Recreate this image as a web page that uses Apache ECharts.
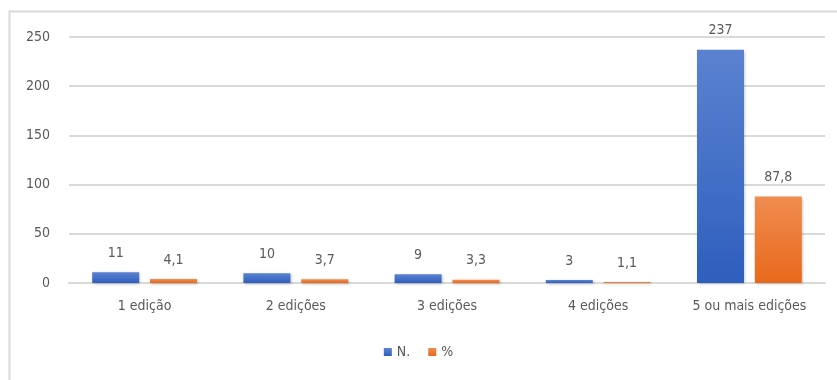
<!DOCTYPE html>
<html>
<head>
<meta charset="utf-8">
<script src="https://cdn.jsdelivr.net/npm/echarts@6/dist/echarts.min.js"></script>
<style>
  html, body { margin: 0; padding: 0; background: #fff; }
  #main { width: 837px; height: 380px; }
</style>
</head>
<body>
<div id="main"></div>
<script>
// categorias e valores
var categories = ['1 edição', '2 edições', '3 edições', '4 edições', '5 ou mais edições'];
var valoresN = [11, 10, 9, 3, 237];
var valoresPct = [4.1, 3.7, 3.3, 1.1, 87.8];
var seriesNames = ['N.', '%'];

var fonte = '"DejaVu Sans Condensed", "Liberation Sans Narrow", sans-serif';
var cinza = '#595959';

function grad(top, bottom) {
    return new echarts.graphic.LinearGradient(0, 0, 0, 1, [
        { offset: 0, color: top },
        { offset: 1, color: bottom }
    ]);
}

function rotulo(param) {
    // virgula decimal
    return String(param.value).replace('.', ',');
}

var chart = echarts.init(document.getElementById('main'), null, { renderer: 'canvas' });

var option = {
    animation: false,
    textStyle: { fontFamily: fonte },
    graphic: [{
        type: 'rect',
        shape: { x: 9.5, y: 11.5, width: 840, height: 380 },
        style: { fill: 'none', stroke: '#d9d9d9', lineWidth: 2 },
        silent: true
    }],
    grid: { left: 69, right: 12, top: 37, bottom: 97, containLabel: false },
    legend: {
        bottom: 16,
        left: 'center',
        itemWidth: 8,
        itemHeight: 8,
        itemGap: 18,
        icon: 'rect',
        textStyle: { color: cinza, fontSize: 14, fontFamily: fonte },
        data: seriesNames
    },
    xAxis: {
        type: 'category',
        data: categories,
        axisLine: { lineStyle: { color: '#d9d9d9', width: 2 } },
        axisTick: { show: false },
        axisLabel: { color: cinza, fontSize: 14, margin: 16, interval: 0, fontFamily: fonte }
    },
    yAxis: {
        type: 'value',
        min: 0,
        max: 250,
        interval: 50,
        axisLine: { show: false },
        axisTick: { show: false },
        splitLine: { lineStyle: { color: '#d9d9d9', width: 2 } },
        axisLabel: { color: cinza, fontSize: 14, margin: 19, fontFamily: fonte }
    },
    series: [
        {
            name: seriesNames[0],
            type: 'bar',
            data: valoresN,
            barWidth: 47,
            barGap: '23%',
            itemStyle: {
                color: grad('#5b82d0', '#2e5fbe'),
                shadowColor: 'rgba(0,0,0,0.25)',
                shadowBlur: 3,
                shadowOffsetX: 1,
                shadowOffsetY: 1
            },
            label: {
                show: true,
                position: 'top',
                distance: 12,
                color: cinza,
                fontSize: 14,
                fontFamily: fonte,
                formatter: rotulo
            }
        },
        {
            name: seriesNames[1],
            type: 'bar',
            data: valoresPct,
            barWidth: 47,
            itemStyle: {
                color: grad('#f08c50', '#e8691b'),
                shadowColor: 'rgba(0,0,0,0.25)',
                shadowBlur: 3,
                shadowOffsetX: 1,
                shadowOffsetY: 1
            },
            label: {
                show: true,
                position: 'top',
                distance: 12,
                color: cinza,
                fontSize: 14,
                fontFamily: fonte,
                formatter: rotulo
            }
        }
    ]
};

chart.setOption(option);
</script>
</body>
</html>
